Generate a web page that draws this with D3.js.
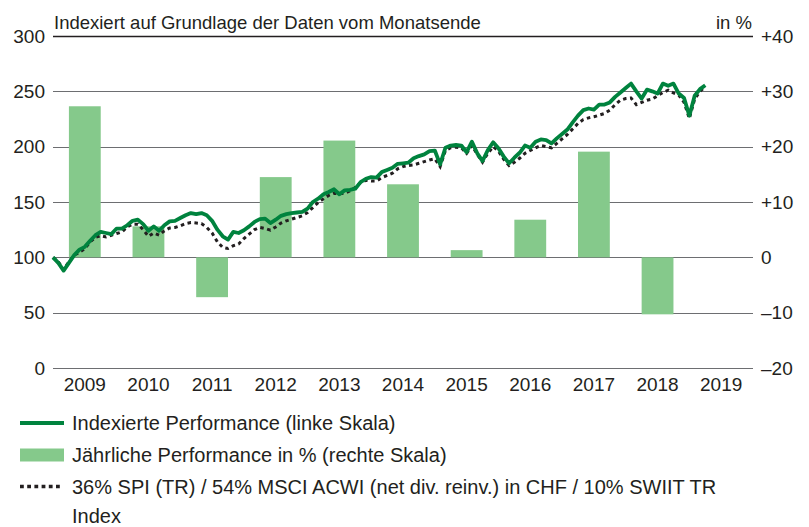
<!DOCTYPE html>
<html>
<head>
<meta charset="utf-8">
<script src="https://cdn.jsdelivr.net/npm/d3@7"></script>
<style>
  body { margin: 0; background: #fff; }
  text { font-family: "Liberation Sans", Arial, sans-serif; fill: #231f20; }
</style>
</head>
<body>
<div id="chart"></div>
<script>
// Jahre (Balken + Achse)
const years = ["2009", "2010", "2011", "2012", "2013", "2014", "2015", "2016", "2017", "2018", "2019"];
const yearlyPerf = [27.3, 5.6, -7.2, 14.5, 21.1, 13.2, 1.3, 6.8, 19.1, -10.3, null];

// Monatsende-Werte ab Dez. 2008 (=100) bis März 2019
const portfolio = [
  100, 95, 88, 95, 102, 107, 109.5, 115, 120, 123, 122, 121,
  126, 126, 129, 133, 134, 130, 124, 128, 124, 129, 132.5, 133,
  135.5, 138, 140, 139, 140, 138, 133, 125, 119, 116, 123, 122,
  124.5, 128, 132, 134.5, 135, 131, 134, 137.5, 139, 140, 140.5, 141,
  144, 150, 153, 157, 159, 161.5, 157, 160.5, 161, 162, 168, 171,
  172.5, 172, 177, 179, 181, 184.5, 185, 185.5, 189.5, 191.5, 193, 196,
  196.5, 184, 199, 201, 201.5, 201, 195, 204.5, 194, 187, 197, 204,
  198.5, 191, 185, 190, 194.5, 201, 199, 204.5, 206.5, 206, 203, 207.5,
  211.5, 215.5, 222, 228, 233, 234.5, 233.5, 238, 238, 240, 245, 249,
  253, 257, 250, 243.5, 251.5, 250, 248, 257, 255, 257, 248, 244,
  228, 246, 252, 255.5
];
const benchmark = [
  100, 96, 89, 96, 102, 104.5, 108, 114, 118, 119.5, 118.5, 120,
  121.5, 123, 127.5, 130, 130, 125, 119, 122, 120, 124, 126.5, 127,
  128.5, 130.5, 131.5, 131, 130.5, 127, 122, 114, 109, 108, 110.5, 112,
  117, 121, 125, 127, 126, 124.5, 127.5, 131, 133, 134.5, 136, 137.5,
  140.5, 145, 149.5, 153, 156, 158, 157.5, 158, 160, 163, 167.5, 169.5,
  169, 169, 172, 174, 176, 180, 182, 183, 183.5, 185, 186.5, 188,
  189, 182, 196.5, 199, 199.5, 199, 194, 201, 193, 186, 194, 200,
  196, 188.5, 183, 186, 189.5, 194, 196.5, 199, 201, 200, 199, 203,
  207, 211, 216, 221, 224.5, 226, 227, 228.5, 230, 233, 238, 242,
  243.5, 244, 238, 240, 242, 243, 246, 249, 251, 248.5, 246.5, 240,
  225.5, 243, 250, 254
];

const leftTicks = [0, 50, 100, 150, 200, 250, 300];
const rightTicks = [-20, -10, 0, 10, 20, 30, 40];

const legendItems = [
  "Indexierte Performance (linke Skala)",
  "Jährliche Performance in % (rechte Skala)",
  "36% SPI (TR) / 54% MSCI ACWI (net div. reinv.) in CHF / 10% SWIIT TR",
  "Index"
];

const width = 809, height = 527;
const plotLeft = 53, plotRight = 753, plotTop = 36, plotBottom = 368;
const darkGreen = "#00833e", lightGreen = "#85c98b";

const svg = d3.select("#chart").append("svg")
  .attr("width", width)
  .attr("height", height);

const x = d3.scaleBand().domain(years).range([plotLeft, plotRight]).paddingInner(0.5).paddingOuter(0.25);
const xLabel = d3.scaleBand().domain(years).range([plotLeft, plotRight]);
const xMonth = d3.scaleLinear().domain([0, years.length * 12]).range([plotLeft, plotRight]);
const yLeft = d3.scaleLinear().domain([0, 300]).range([plotBottom, plotTop]);
const yRight = d3.scaleLinear().domain([-20, 40]).range([plotBottom, plotTop]);

// Gitterlinien
svg.append("g")
  .selectAll("line")
  .data(leftTicks)
  .enter()
  .append("line")
  .attr("x1", plotLeft)
  .attr("x2", plotRight)
  .attr("y1", d => Math.round(yLeft(d)) + 0.5)
  .attr("y2", d => Math.round(yLeft(d)) + 0.5)
  .attr("stroke", d => d === 300 ? "#231f20" : "#6d6e71")
  .attr("stroke-width", d => d === 300 ? 1.3 : 1);

// Balken
svg.append("g")
  .selectAll("rect")
  .data(years.map((y, i) => ({ year: y, value: yearlyPerf[i] })).filter(d => d.value !== null))
  .enter()
  .append("rect")
  .attr("x", d => x(d.year))
  .attr("width", x.bandwidth())
  .attr("y", d => yRight(Math.max(0, d.value)))
  .attr("height", d => Math.abs(yRight(d.value) - yRight(0)))
  .attr("fill", lightGreen);

// Linien
const line = d3.line()
  .x((d, i) => xMonth(i))
  .y(d => yLeft(d))
  .curve(d3.curveLinear);

svg.append("path")
  .datum(benchmark)
  .attr("d", line)
  .attr("fill", "none")
  .attr("stroke", "#231f20")
  .attr("stroke-width", 3)
  .attr("stroke-dasharray", "3.5,3.5");

svg.append("path")
  .datum(portfolio)
  .attr("d", line)
  .attr("fill", "none")
  .attr("stroke", darkGreen)
  .attr("stroke-width", 3.8)
  .attr("stroke-linejoin", "round");

// Achsenbeschriftung links
svg.append("g")
  .selectAll("text")
  .data(leftTicks)
  .enter()
  .append("text")
  .attr("x", 45)
  .attr("y", d => yLeft(d) + 6.5)
  .attr("text-anchor", "end")
  .attr("font-size", "19px")
  .text(d => d);

// Achsenbeschriftung rechts
svg.append("g")
  .selectAll("text")
  .data(rightTicks)
  .enter()
  .append("text")
  .attr("x", 761)
  .attr("y", d => yRight(d) + 6.5)
  .attr("font-size", "19px")
  .text(d => d > 0 ? "+" + d : d < 0 ? "\u2013" + Math.abs(d) : "0");

// Jahre
svg.append("g")
  .selectAll("text")
  .data(years)
  .enter()
  .append("text")
  .attr("x", d => xLabel(d) + xLabel.bandwidth() / 2)
  .attr("y", 391)
  .attr("text-anchor", "middle")
  .attr("font-size", "19px")
  .text(d => d);

// Titel
svg.append("text")
  .attr("x", 54)
  .attr("y", 29)
  .attr("font-size", "18.5px")
  .text("Indexiert auf Grundlage der Daten vom Monatsende");

svg.append("text")
  .attr("x", plotRight - 1)
  .attr("y", 29)
  .attr("text-anchor", "end")
  .attr("font-size", "18.5px")
  .text("in %");

// Legende
const legendY = [423, 455, 486.5, 515.5];
const legend = svg.append("g");

legend.append("line")
  .attr("x1", 20).attr("x2", 64)
  .attr("y1", legendY[0]).attr("y2", legendY[0])
  .attr("stroke", darkGreen)
  .attr("stroke-width", 4);

legend.append("rect")
  .attr("x", 20).attr("y", legendY[1] - 6.5)
  .attr("width", 44).attr("height", 13)
  .attr("fill", lightGreen);

legend.append("line")
  .attr("x1", 20).attr("x2", 62)
  .attr("y1", legendY[2]).attr("y2", legendY[2])
  .attr("stroke", "#231f20")
  .attr("stroke-width", 3.5)
  .attr("stroke-dasharray", "3.8,3.4");

legend.selectAll("text")
  .data(legendItems)
  .enter()
  .append("text")
  .attr("x", 72)
  .attr("y", (d, i) => legendY[i] + 7)
  .attr("font-size", "20px")
  .text(d => d);
</script>
</body>
</html>
